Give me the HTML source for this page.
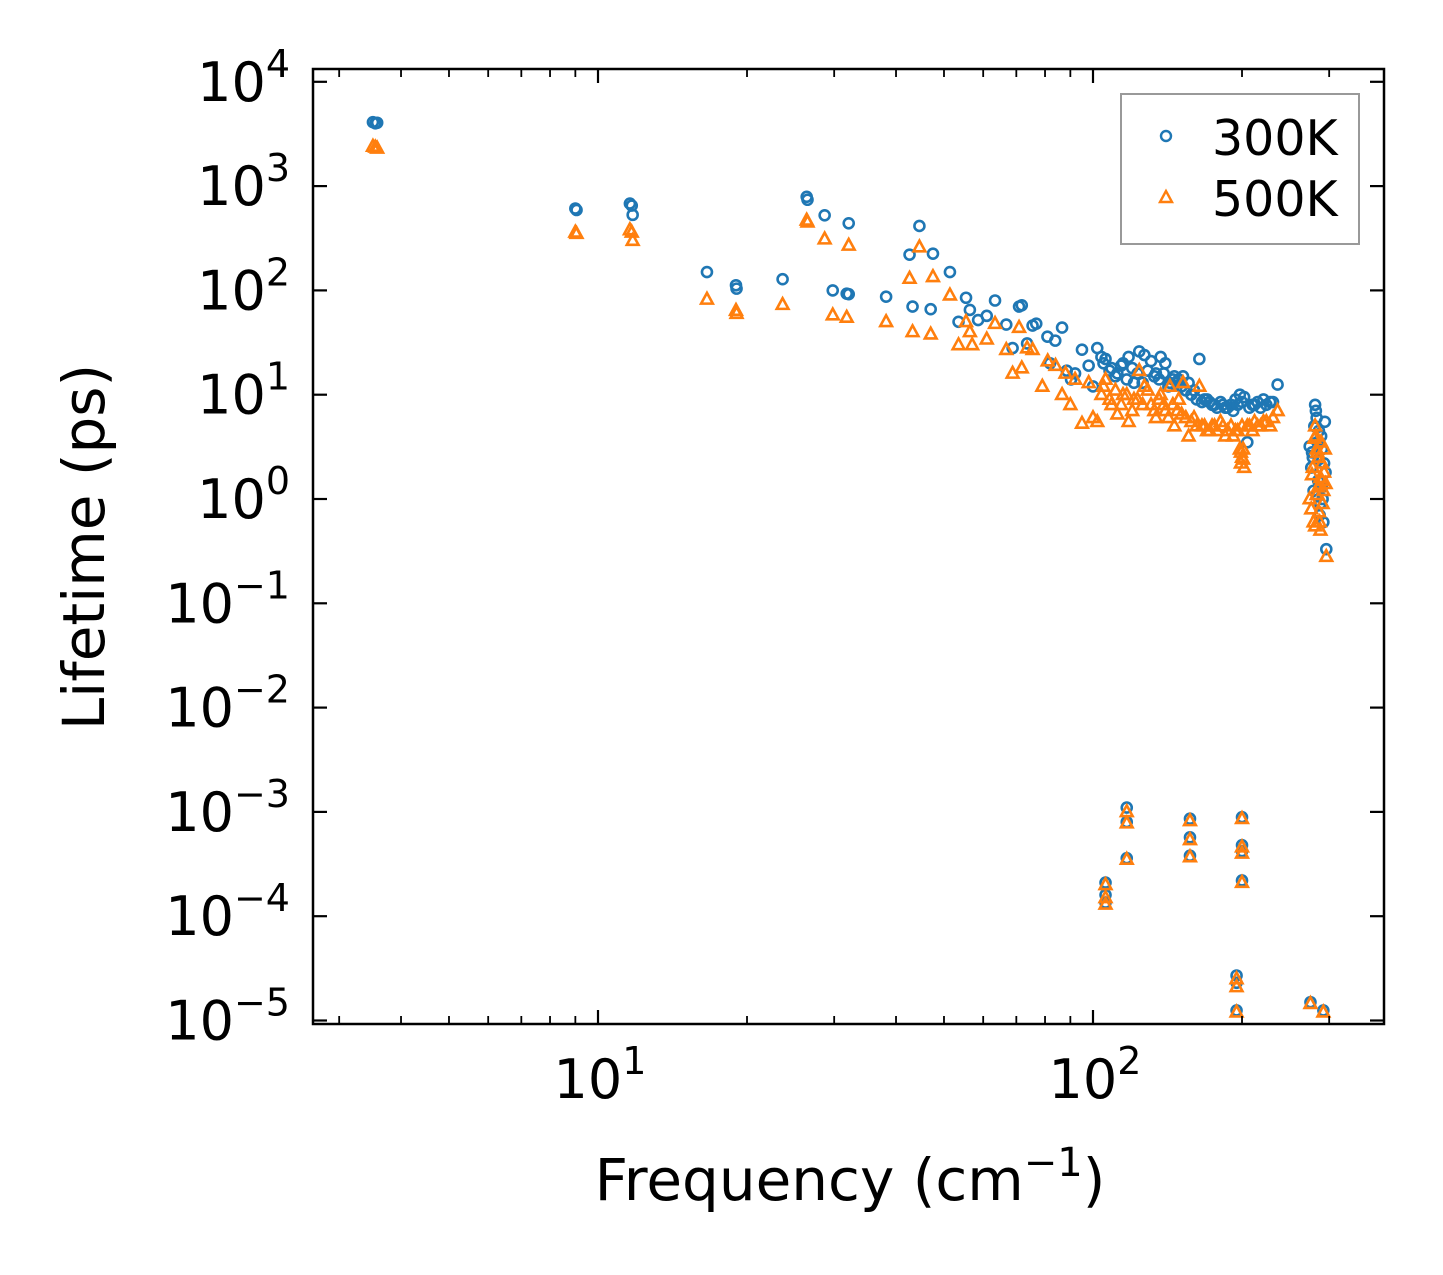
<!DOCTYPE html>
<html><head><meta charset="utf-8"><style>
html,body{margin:0;padding:0;background:#fff}
svg{display:block}
text{font-family:"DejaVu Sans","Liberation Sans",sans-serif;fill:#000}
</style></head><body>
<svg id="chart" width="1443" height="1275" viewBox="0 0 1443 1275" xmlns="http://www.w3.org/2000/svg">
<rect width="1443" height="1275" fill="#fff"/>
<g id="marks"></g>
<g id="axes"></g>
</svg>
<script>
const freq300=[3.51,3.55,3.58,9.0,9.05,11.6,11.7,11.75,16.6,19.0,19.05,23.6,26.4,26.5,28.7,29.8,31.8,32.1,32.1,38.2,42.6,43.2,44.6,47.0,47.5,51.4,53.5,55.4,56.4,58.6,61.0,63.4,66.8,68.8,70.9,71.8,73.6,75.5,76.8,80.9,81.9,83.9,86.6,88.5,90.3,92,95,98,100,102,104,106,109,112,115,118,121,124,127,131,134,137,140,143,146,149,152,156,160,164,168,172,176,181,185,190,194,198,202,205,210,215,221,228,236,
105,108,111,114,117,120,123,126,129,133,136,139,142,145,148,151,154,158,162,166,170,174,178,183,187,192,196,200,207,212,218,224,231,
274,276,279,281,283,286,288,290,292,294,296,278,282,285,289,293,295,291,287,284,280,277,290,286,283,
106,106,106,117,117,117,157,157,157,195,195,195,200,200,200,200,275,292];
const life300=[4100,4000,4050,610,590,680,650,530,150,112,104,128,790,740,525,100,93,92,440,87,220,70,415,66,225,150,50,85,65,52,57,80,47,28,70,72,31,46,48,36,20,33,44,17,14,16,27,19,12,28,23,22,18,16,20,23,13,26,24,21,16,23,20,13,15,14,15,13,11,22,9,8.5,8,8.5,7.5,8,9,10,9.5,3.5,8,8.5,9,8.5,12.5,
20,17,15,19,14,18,16,13,17,15,14,16,12,14,13,12,11,10,9,8.5,9,8,7.5,8,7.5,7,8,8.5,7.5,8,7.5,8,8.5,
3.2,2,1.2,8,6,4.5,0.9,3,0.6,5.5,0.33,2.5,7,1.5,4,2.2,1.8,1,0.7,3.5,5,2.8,1.3,2.4,1.1,
2.1e-4,1.6e-4,1.35e-4,1.1e-3,8e-4,3.6e-4,8.6e-4,5.7e-4,3.8e-4,2.7e-5,2.3e-5,1.25e-5,8.9e-4,4.8e-4,4.2e-4,2.2e-4,1.5e-5,1.25e-5];
const freq500=[3.51,3.55,3.58,9.0,9.05,11.6,11.7,11.75,16.6,19.0,19.05,23.6,26.4,26.5,28.7,29.8,31.8,32.1,38.2,42.6,43.2,44.6,47.0,47.5,51.4,53.5,55.4,56.4,57,61,63.4,66.8,68.8,70.9,71.8,73.6,75.5,79,81,84,86.6,88,90,92,95,98,100,102,104,106,109,112,115,118,121,124,127,131,134,137,140,143,146,149,152,156,160,164,168,172,176,181,185,190,194,198,202,205,210,215,221,228,236,200,201,199,
105,108,111,114,117,120,123,126,129,133,136,139,142,145,148,151,154,158,162,166,170,174,178,183,187,192,196,200,207,212,218,224,231,199,201,
274,276,279,281,283,286,288,290,292,294,296,278,282,285,289,293,295,291,287,284,280,277,290,286,283,281,288,
106,106,106,117,117,117,157,157,157,195,195,195,200,200,200,200,275,292];
const life500=[2400,2350,2300,360,350,380,360,300,82,64,60,73,470,450,310,58,55,270,50,130,40,260,38,135,90,30,50,40,30,34,48,27,16,44,18,28,27,12,21,19,10,16,8,14,5.3,13,6,5.5,10,14,8,6.5,10,5.5,9,17,12,8,6,10,7,12,5,9,13,4,6,12,5,4.5,5,5.5,4,5,4.5,3,2,5,4.5,5,5.5,5,7,2.5,3,2.2,
12,9,11,8,10,7,9,8,11,7,9,8,6,8,7,6.5,6,5.5,5,5,4.5,5,4.5,5,4.5,4,4.5,5,5,5.5,5,5.5,6,2.8,2.4,
1,0.8,0.6,5,3,2.5,0.5,1.5,1.2,3,0.28,2,4,1.3,3.5,1.8,1.4,0.9,0.6,2.8,3.8,1.7,2.2,0.75,1.1,0.55,1.6,
2.0e-4,1.5e-4,1.3e-4,1.0e-3,7.8e-4,3.5e-4,8.2e-4,5.4e-4,3.7e-4,2.5e-5,2.1e-5,1.2e-5,8.6e-4,4.6e-4,4.0e-4,2.1e-4,1.45e-5,1.2e-5];
const yTickExp=[4,3,2,1,0,-1,-2,-3,-4,-5];
const xTickExp=[1,2];
const xMinor=[3,4,5,6,7,8,9,20,30,40,50,60,70,80,90,200,300];

const L=313,R=1384,T=69,B=1024;
function xs(f){return 598+495*(Math.log10(f)-1);}
function ys(v){return 499-104.3*Math.log10(v);}
const NS="http://www.w3.org/2000/svg";
function mk(tag,attrs,parent){const e=document.createElementNS(NS,tag);for(const k in attrs)e.setAttribute(k,attrs[k]);parent.appendChild(e);return e;}
const marks=document.getElementById('marks'),axes=document.getElementById('axes');
const C1="#1f77b4",C2="#ff7f0e";
freq300.forEach((f,i)=>{
  const c=mk('circle',{cx:xs(f),cy:ys(life300[i]),r:5,fill:'none',stroke:C1,'stroke-width':2.6},marks);
  
  
});
function tri(x,y,s){return `${x},${y-s} ${x-s*0.9},${y+s*0.65} ${x+s*0.9},${y+s*0.65}`;}
freq500.forEach((f,i)=>{
  const p=mk('polygon',{points:tri(xs(f),ys(life500[i]),6.5),fill:'none',stroke:C2,'stroke-width':2.6},marks);
  
  
});
const fr=mk('rect',{x:L,y:T,width:R-L,height:B-T,fill:'none',stroke:'#000','stroke-width':2.5},axes);


yTickExp.forEach(e=>{
  const y=ys(Math.pow(10,e));
  mk('line',{x1:L,x2:L+14,y1:y,y2:y,stroke:'#000','stroke-width':2.2},axes);
  mk('line',{x1:R,x2:R-14,y1:y,y2:y,stroke:'#000','stroke-width':2.2},axes);
  const t=mk('text',{x:290,y:y+19,'text-anchor':'end','font-size':54},axes);
  
  
  t.textContent='10';
  const s=mk('tspan',{dy:-24,'font-size':38},t);s.textContent=(e<0?'\u2212'+(-e):''+e);
});
xTickExp.forEach(e=>{
  const x=xs(Math.pow(10,e));
  mk('line',{x1:x,x2:x,y1:B,y2:B-14,stroke:'#000','stroke-width':2.2},axes);
  mk('line',{x1:x,x2:x,y1:T,y2:T+14,stroke:'#000','stroke-width':2.2},axes);
  const t=mk('text',{x:x+2,y:1098,'text-anchor':'middle','font-size':54},axes);
  
  
  t.textContent='10';
  const s=mk('tspan',{dy:-24,'font-size':38},t);s.textContent=''+e;
});
xMinor.forEach(f=>{
  const x=xs(f);
  mk('line',{x1:x,x2:x,y1:B,y2:B-8,stroke:'#000','stroke-width':1.8},axes);
  mk('line',{x1:x,x2:x,y1:T,y2:T+8,stroke:'#000','stroke-width':1.8},axes);
});
</script>
<svg style="position:absolute;left:0;top:0" width="1443" height="1275">
<text transform="translate(104,547) rotate(-90)" text-anchor="middle" font-size="58">Lifetime (ps)</text>
<text x="850" y="1200" text-anchor="middle" font-size="58">Frequency (cm<tspan dy="-24" font-size="40">−1</tspan><tspan dy="24">)</tspan></text>
<g>
<rect x="1121" y="94" width="238" height="150" fill="#fff" stroke="#999" stroke-width="2"/>
<circle cx="1166" cy="136" r="5" fill="none" stroke="#1f77b4" stroke-width="2.4"/>
<text x="1212" y="155" font-size="49">300K</text>
<polygon points="1166,191 1160,202 1172,202" fill="none" stroke="#ff7f0e" stroke-width="2.4"/>
<text x="1212" y="216" font-size="49">500K</text>
</g>
</svg>
</body></html>
